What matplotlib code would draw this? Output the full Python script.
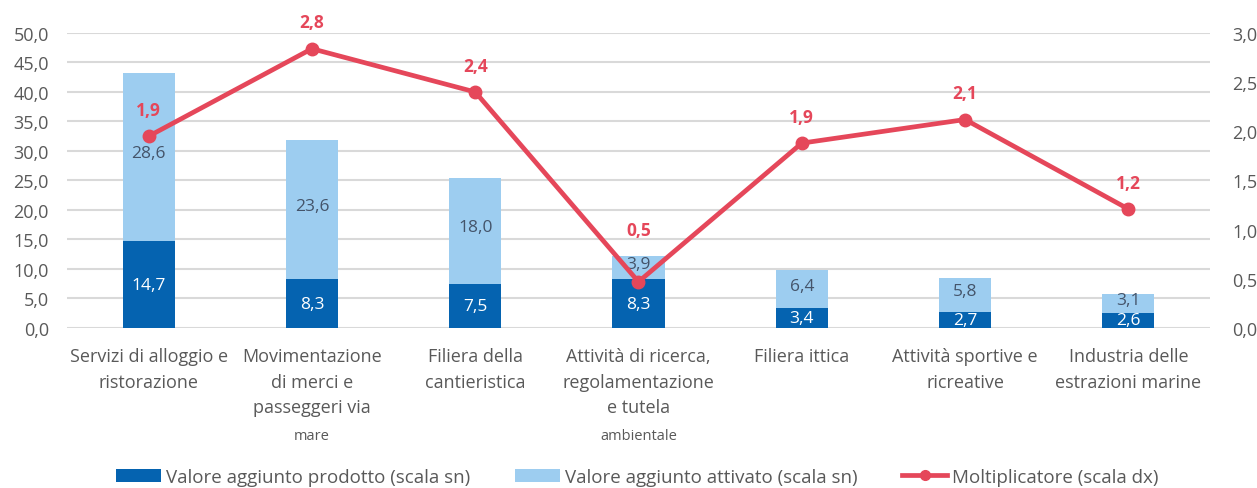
import matplotlib
matplotlib.use("Agg")
import matplotlib.pyplot as plt
from matplotlib.patches import Patch
from matplotlib.lines import Line2D

categories = [
    "Servizi di alloggio e\nristorazione",
    "Movimentazione\ndi merci e\npasseggeri via\nmare",
    "Filiera della\ncantieristica",
    "Attività di ricerca,\nregolamentazione\ne tutela\nambientale",
    "Filiera ittica",
    "Attività sportive e\nricreative",
    "Industria delle\nestrazioni marine",
]
prodotto = [14.7, 8.3, 7.5, 8.3, 3.4, 2.7, 2.6]
attivato = [28.6, 23.6, 18.0, 3.9, 6.4, 5.8, 3.1]
moltiplicatore = [1.95, 2.84, 2.40, 0.47, 1.88, 2.12, 1.21]
left_ticks = [0, 5, 10, 15, 20, 25, 30, 35, 40, 45, 50]
right_ticks = [0, 0.5, 1.0, 1.5, 2.0, 2.5, 3.0]
legend_labels = ["Valore aggiunto prodotto (scala sn)",
                 "Valore aggiunto attivato (scala sn)",
                 "Moltiplicatore (scala dx)"]

FONT = "Open Sans"
plt.rcParams["font.family"] = [FONT, "DejaVu Sans"]
DARK = "#0563B0"
LIGHT = "#9DCDF0"
RED = "#E5475A"
GREY = "#595959"
GRID = "#D9D9D9"

fig = plt.figure(figsize=(12.57, 4.89), dpi=100)
ax = fig.add_axes([0.0533, 0.3272, 0.9626 - 0.0533, 0.9305 - 0.3272])
x = list(range(len(categories)))
w = 0.32
ax.bar(x, prodotto, width=w, color=DARK, zorder=2)
ax.bar(x, attivato, width=w, bottom=prodotto, color=LIGHT, zorder=2)

fmt = lambda v: f"{v:.1f}".replace(".", ",")
for i in x:
    ax.text(i, prodotto[i] / 2, fmt(prodotto[i]), ha="center", va="center",
            color="white", fontsize=12.5, zorder=5)
    ax.text(i, prodotto[i] + attivato[i] / 2 + 0.6, fmt(attivato[i]), ha="center", va="center",
            color="#44546A", fontsize=12.5, zorder=5)

ax.set_xlim(-0.5, len(categories) - 0.5)
ax.set_ylim(0, 50)
ax.set_yticks(left_ticks)
ax.set_yticklabels([fmt(v) for v in left_ticks], color=GREY, fontsize=13)
ax.yaxis.grid(True, color=GRID, linewidth=1.5, zorder=0)
ax.set_axisbelow(True)
for s in ax.spines.values():
    s.set_visible(False)
ax.tick_params(axis="both", length=0, pad=13)
ax.set_xticks([])

# category labels
for i, cat in enumerate(categories):
    lines = cat.split("\n")
    for j, ln in enumerate(lines):
        small = j == 3
        ax.annotate(ln, xy=(i, 0), xycoords=("data", "axes fraction"),
                    xytext=(0, -28.5 * 0.72 - j * 25.5 * 0.72 - (1.5 if small else 0)),
                    textcoords="offset points", ha="center", va="center",
                    color=GREY, fontsize=10.5 if small else 13)

ax2 = ax.twinx()
ax2.set_ylim(0, 3)
ax2.set_yticks(right_ticks)
ax2.set_yticklabels([fmt(v) for v in right_ticks], color=GREY, fontsize=13)
ax2.tick_params(axis="y", length=0, pad=16)
for s in ax2.spines.values():
    s.set_visible(False)
ax2.plot(x, moltiplicatore, color=RED, linewidth=3.4, marker="o", markersize=9,
         zorder=4, solid_capstyle="round")

# red labels: above the point; if they would collide with the bar's value label,
# put them above the bar instead
scale = 3 / 50
for i in x:
    m = moltiplicatore[i]
    seg_label = (prodotto[i] + attivato[i] / 2) * scale
    y0 = m
    if abs((m + 0.27) - seg_label) < 0.25:
        y0 = (prodotto[i] + attivato[i]) * scale
    ax2.annotate(fmt(m), xy=(i, y0), xytext=(0, 19),
                 textcoords="offset points", ha="center", va="center",
                 color=RED, fontsize=12.5, fontweight="bold")

handles = [Patch(facecolor=DARK), Patch(facecolor=LIGHT),
           Line2D([0], [0], color=RED, linewidth=3.4, marker="o", markersize=7)]
fig.legend(handles, legend_labels, loc="center", bbox_to_anchor=(0.507, 0.0225),
           ncol=3, frameon=False, fontsize=13.5, labelcolor=GREY,
           handlelength=2.4, handleheight=0.7, handletextpad=0.25, columnspacing=2.4,
           borderpad=0)

fig.savefig("out.png", dpi=100)
